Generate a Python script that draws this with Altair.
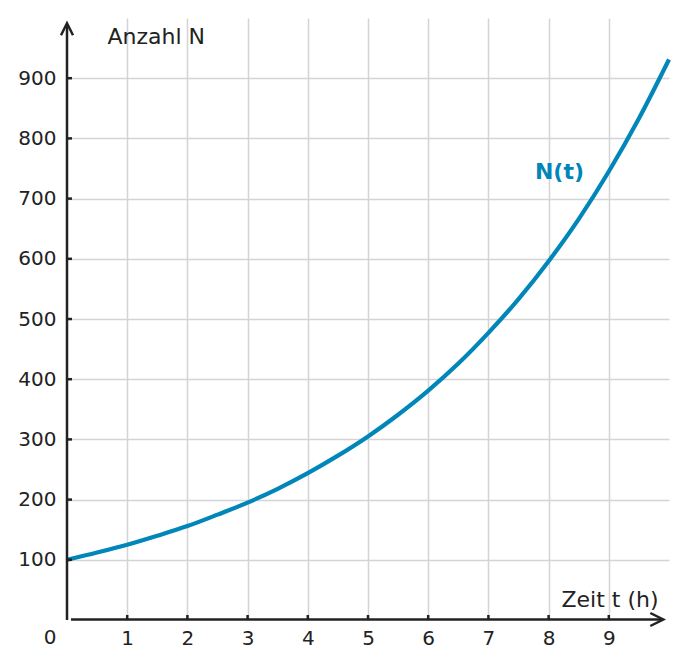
import altair as alt
import pandas as pd

# Data
t_vals = [0, 0.5, 1, 1.5, 2, 2.5, 3, 3.5, 4, 4.5, 5, 5.5, 6, 6.5, 7, 7.5, 8, 8.5, 9, 9.5, 10]
n_vals = [100, 112, 125, 140, 156, 175, 195, 218, 244, 273, 305, 341, 381, 426, 477, 533, 596, 666, 745, 833, 931]
x_ticks = [1, 2, 3, 4, 5, 6, 7, 8, 9]
y_ticks = [100, 200, 300, 400, 500, 600, 700, 800, 900]
curve_label = ["N(t)"]
curve_label_t = [8.18]
curve_label_n = [745]
origin_label = ["0"]

FONT = "DejaVu Sans"
TXT = "#222222"
BLUE = "#0086b9"
GRID = "#d4d4d4"
W = 602
H = 602

df = pd.DataFrame({"t": t_vals, "N": n_vals})
xs = alt.Scale(domain=[0, 10], nice=False, zero=False)
ys = alt.Scale(domain=[0, 1000], nice=False)

X_AXIS = alt.Axis(
    values=x_ticks, grid=True, gridColor=GRID, gridWidth=1.5, domain=False, ticks=False,
    labelFont=FONT, labelFontSize=20, labelColor=TXT, labelPadding=8,
    title="Zeit t (h)", titleFont=FONT, titleFontSize=22, titleFontWeight="normal",
    titleColor=TXT, titleX=591, titleY=-14, titleAlign="right", titleBaseline="alphabetic")
Y_AXIS = alt.Axis(
    values=y_ticks, grid=True, gridColor=GRID, gridWidth=1.5, domain=False, ticks=False,
    labelFont=FONT, labelFontSize=20, labelColor=TXT, labelPadding=11,
    title="Anzahl N", titleFont=FONT, titleFontSize=22, titleFontWeight="normal",
    titleColor=TXT, titleAngle=0, titleX=40, titleY=25, titleAlign="left",
    titleBaseline="alphabetic")


def X(field):
    return alt.X(field, scale=xs, axis=X_AXIS, title="Zeit t (h)")


def Y(field):
    return alt.Y(field, scale=ys, axis=Y_AXIS, title="Anzahl N")


curve = alt.Chart(df).mark_line(color=BLUE, strokeWidth=4.2, interpolate="monotone").encode(
    x=X("t:Q"), y=Y("N:Q"))

one = pd.DataFrame({"a": [0]})

y_axis_line = alt.Chart(one).mark_rule(color=TXT, strokeWidth=2.5).encode(
    x=alt.value(0), y=alt.value(H), y2=alt.value(6))
x_axis_line = alt.Chart(one).mark_rule(color=TXT, strokeWidth=2.5).encode(
    x=alt.value(4), x2=alt.value(595), y=alt.value(H - 0.5))

y_arrow = alt.Chart(one).mark_point(
    shape="M -1 1 L 0 -1 L 1 1", filled=False, stroke=TXT, strokeWidth=2.5,
    size=144, opacity=1).encode(x=alt.value(0), y=alt.value(11.3))
x_arrow = alt.Chart(one).mark_point(
    shape="M -1 -1 L 1 0 L -1 1", filled=False, stroke=TXT, strokeWidth=2.5,
    size=169, opacity=1).encode(x=alt.value(589.8), y=alt.value(H - 0.5))

y_tick_df = pd.DataFrame({"N": y_ticks})
x_tick_df = pd.DataFrame({"t": x_ticks})
y_tick_marks = alt.Chart(y_tick_df).mark_rule(color=TXT, strokeWidth=2.5).encode(
    y=Y("N:Q"), x=alt.value(0), x2=alt.value(5))
x_tick_marks = alt.Chart(x_tick_df).mark_rule(color=TXT, strokeWidth=2.5).encode(
    x=X("t:Q"), y=alt.value(H), y2=alt.value(H - 5))

origin_df = pd.DataFrame({"t": [0], "N": [0], "lab": origin_label})
origin_text = alt.Chart(origin_df).mark_text(
    font=FONT, fontSize=20, color=TXT, align="center", baseline="middle", dx=-17, dy=18
).encode(x=X("t:Q"), y=Y("N:Q"), text="lab:N")

lab_df = pd.DataFrame({"t": curve_label_t, "N": curve_label_n, "lab": curve_label})
curve_text = alt.Chart(lab_df).mark_text(
    font=FONT, fontSize=22, fontWeight="bold", color=BLUE, align="center", baseline="middle"
).encode(x=X("t:Q"), y=Y("N:Q"), text="lab:N")

chart = alt.layer(
    curve, y_tick_marks, x_tick_marks, y_axis_line, x_axis_line, y_arrow, x_arrow,
    origin_text, curve_text
).properties(
    width=W, height=H,
    autosize=alt.AutoSizeParams(type="none"),
    padding={"left": 59, "top": 10, "right": 10, "bottom": 40},
    background="white",
).configure_view(stroke=None)

chart.save("out.html", embed_options={"renderer": "svg", "actions": False})
